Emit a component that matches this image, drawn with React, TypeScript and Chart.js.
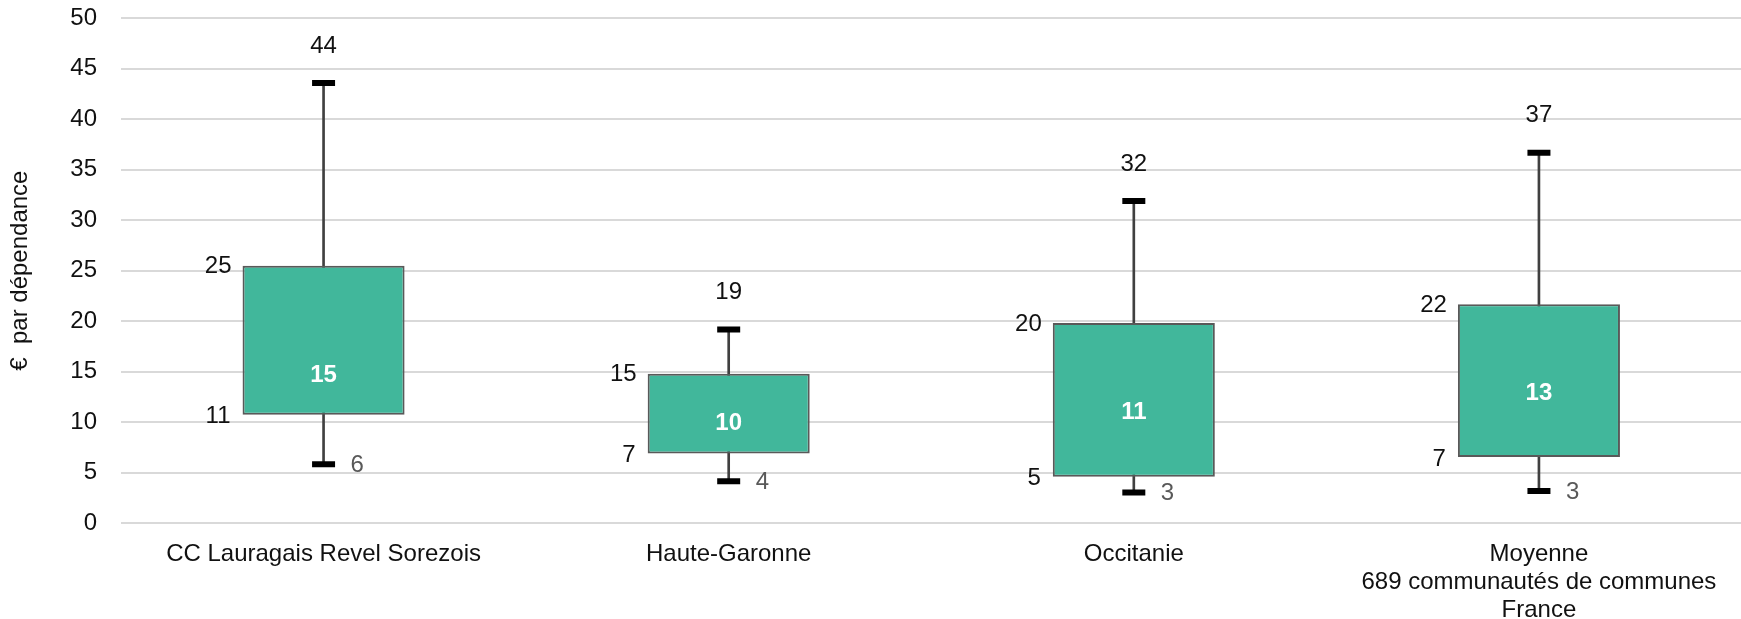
import React, { useEffect, useRef } from "react";
import { Chart, registerables } from "chart.js";

Chart.register(...registerables);

const categories: (string | string[])[] = [
  "CC Lauragais Revel Sorezois",
  "Haute-Garonne",
  "Occitanie",
  ["Moyenne", "689 communautés de communes", "France"],
];
const minValues = [5.83, 4.14, 3.02, 3.16];
const q1Values = [10.72, 6.88, 4.57, 6.53];
const medianValues = [14.58, 9.86, 11.0, 12.89];
const q3Values = [25.48, 14.78, 19.81, 21.67];
const maxValues = [43.58, 19.17, 31.9, 36.67];
const yTicks = { min: 0, max: 50, step: 5 };
const yTitle = "€  par dépendance";

const FONT = "Arial, 'Liberation Sans', sans-serif";

const labelPlugin = {
  id: "boxLabels",
  afterDatasetsDraw(chart: any) {
    const { ctx } = chart;
    const xs = chart.scales.x;
    const ys = chart.scales.y;
    const boxMeta = chart.getDatasetMeta(0);
    ctx.save();
    ctx.font = `24px ${FONT}`;
    ctx.textBaseline = "middle";
    for (let i = 0; i < categories.length; i++) {
      const x = xs.getPixelForValue(i);
      const bar = boxMeta.data[i];
      const half = bar ? bar.width / 2 : 82;
      // max label
      ctx.fillStyle = "#111111";
      ctx.textAlign = "center";
      ctx.fillText(String(Math.round(maxValues[i])), x, ys.getPixelForValue(maxValues[i]) - 37);
      // Q3 label
      ctx.textAlign = "right";
      ctx.fillText(String(Math.round(q3Values[i])), x - half - 11, ys.getPixelForValue(q3Values[i]) + 1);
      // Q1 label
      ctx.fillText(String(Math.round(q1Values[i])), x - half - 12, ys.getPixelForValue(q1Values[i]) + 2);
      // min label
      ctx.fillStyle = "#595959";
      ctx.textAlign = "left";
      ctx.fillText(String(Math.round(minValues[i])), x + 27, ys.getPixelForValue(minValues[i]) + 1);
      // median label
      ctx.fillStyle = "#ffffff";
      ctx.textAlign = "center";
      ctx.font = `bold 24px ${FONT}`;
      ctx.fillText(String(Math.round(medianValues[i])), x, ys.getPixelForValue(medianValues[i]));
      ctx.font = `24px ${FONT}`;
    }
    ctx.restore();
  },
};

export default function App() {
  const ref = useRef<HTMLCanvasElement | null>(null);
  useEffect(() => {
    document.body.style.margin = "0";
    const canvas = ref.current;
    if (!canvas) return;
    const chart = new Chart(canvas, {
      type: "bar",
      data: {
        labels: categories as any,
        datasets: [
          {
            type: "bar",
            label: "box",
            data: q1Values.map((v, i) => [v, q3Values[i]]) as any,
            backgroundColor: "#41B79B",
            borderColor: "#595959",
            borderWidth: 2,
            borderSkipped: false,
            barPercentage: 0.4,
            categoryPercentage: 1,
            grouped: false,
            order: 1,
          } as any,
          {
            type: "bar",
            label: "whisker",
            data: minValues.map((v, i) => [v, maxValues[i]]) as any,
            backgroundColor: "#404040",
            borderWidth: 0,
            barThickness: 2,
            grouped: false,
            order: 2,
          } as any,
          {
            type: "line",
            label: "max",
            data: maxValues,
            showLine: false,
            pointStyle: "line",
            pointRadius: 11.5,
            pointBorderWidth: 6,
            pointBorderColor: "#000000",
            order: 0,
          } as any,
          {
            type: "line",
            label: "min",
            data: minValues,
            showLine: false,
            pointStyle: "line",
            pointRadius: 11.5,
            pointBorderWidth: 6,
            pointBorderColor: "#000000",
            order: 0,
          } as any,
        ],
      },
      options: {
        responsive: false,
        animation: false,
        layout: { padding: 0 },
        plugins: {
          legend: { display: false },
          tooltip: { enabled: false },
        },
        scales: {
          x: {
            type: "category",
            offset: true,
            grid: { display: false, drawTicks: false },
            border: { display: false },
            ticks: {
              color: "#111111",
              font: { family: FONT, size: 24, lineHeight: 1.15 },
              padding: 18,
              maxRotation: 0,
              autoSkip: false,
            },
            afterFit: (scale: any) => {
              scale.height = 96;
            },
          },
          y: {
            min: yTicks.min,
            max: yTicks.max,
            grid: { color: "#d9d9d9", lineWidth: 2, drawTicks: false },
            border: { display: false },
            ticks: {
              stepSize: yTicks.step,
              color: "#111111",
              font: { family: FONT, size: 24 },
              padding: 24,
            },
            title: {
              display: true,
              text: yTitle,
              color: "#111111",
              font: { family: FONT, size: 24 },
              padding: { top: 6, bottom: 0 },
            },
            afterFit: (scale: any) => {
              scale.width = 121;
              scale.paddingTop = 18.3;
              scale.paddingBottom = 0;
            },
          },
        },
      } as any,
      plugins: [labelPlugin],
    });
    return () => chart.destroy();
  }, []);
  return (
    <div style={{ width: 1741, height: 619, overflow: "hidden" }}>
      <canvas ref={ref} width={1759} height={619} style={{ display: "block" }} />
    </div>
  );
}
